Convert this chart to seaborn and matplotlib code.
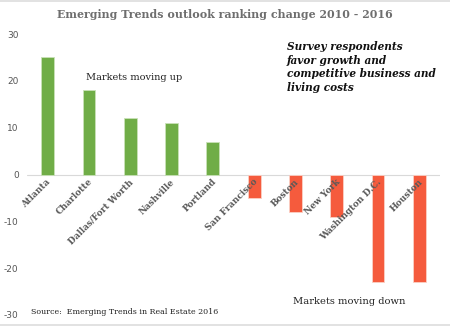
import matplotlib
matplotlib.use("Agg")
import matplotlib.pyplot as plt
import seaborn as sns
import pandas as pd
from matplotlib.lines import Line2D

cities = ["Atlanta", "Charlotte", "Dallas/Fort Worth", "Nashville", "Portland",
          "San Francisco", "Boston", "New York", "Washington D.C.", "Houston"]
rank_change = [25, 18, 12, 11, 7, -5, -8, -9, -23, -23]
y_ticks = [-30, -20, -10, 0, 10, 20, 30]

title = "Emerging Trends outlook ranking change 2010 - 2016"
note = "Survey respondents\nfavor growth and\ncompetitive business and\nliving costs"
up_label = "Markets moving up"
down_label = "Markets moving down"
source = "Source:  Emerging Trends in Real Estate 2016"

df = pd.DataFrame({"city": cities, "change": rank_change})
df["direction"] = ["up" if v >= 0 else "down" for v in rank_change]

sns.set_theme(style="white")
plt.rcParams["font.family"] = ["DejaVu Serif"]

fig = plt.figure(figsize=(4.5, 3.27), dpi=100)
ax = fig.add_axes([27 / 450, 1 - 315 / 327, (440 - 27) / 450, (315 - 34) / 327])

sns.barplot(data=df, x="city", y="change", hue="direction",
            palette={"up": "#70AD47", "down": "#F55B3D"}, saturation=1,
            dodge=False, width=0.31, legend=False, ax=ax,
            edgecolor="#FBD0C5", linewidth=0.6)
for p, v in zip(ax.patches, rank_change):
    if v >= 0:
        p.set_edgecolor("#C9E2B8")

ax.set_xlim(-0.5, len(cities) - 0.5)
ax.set_ylim(-30, 30)
ax.set_yticks(y_ticks)
ax.set_yticklabels([str(t) for t in y_ticks], fontsize=6.5, color="#555555",
                   family="DejaVu Sans")
ax.tick_params(axis="y", length=0, pad=6)
ax.set_xticks([])
ax.set_xlabel("")
ax.set_ylabel("")
for s in ax.spines.values():
    s.set_visible(False)
ax.axhline(0, color="#D9D9D9", lw=0.8, zorder=0)

# rotated category labels hanging below the zero line
for i, c in enumerate(cities):
    ax.text(i + 0.12, -0.6, c, rotation=45, ha="right", va="top",
            fontsize=6.3, fontweight="bold", color="#595959")

fig.text(0.5, 1 - 15 / 327, title, ha="center", va="center",
         fontsize=7.9, fontweight="bold", color="#6E6E6E")
fig.text(287 / 450, 1 - 41 / 327, note, ha="left", va="top",
         fontsize=7.6, fontweight="bold", style="italic", color="#111111",
         linespacing=1.28)
fig.text(86 / 450, 1 - 77 / 327, up_label, ha="left", va="center",
         fontsize=7, color="#222222")
fig.text(293 / 450, 1 - 302 / 327, down_label, ha="left", va="center",
         fontsize=7.1, color="#222222")
fig.text(31 / 450, 1 - 312 / 327, source, ha="left", va="center",
         fontsize=5.7, color="#222222")

# thin frame lines at top and bottom of the figure
fig.add_artist(Line2D([0, 1], [1 - 1 / 327, 1 - 1 / 327], color="#DDDDDD", lw=1.2))
fig.add_artist(Line2D([0, 1], [1 - 325 / 327, 1 - 325 / 327], color="#DDDDDD", lw=1.2))

fig.savefig("out.png", dpi=100)
